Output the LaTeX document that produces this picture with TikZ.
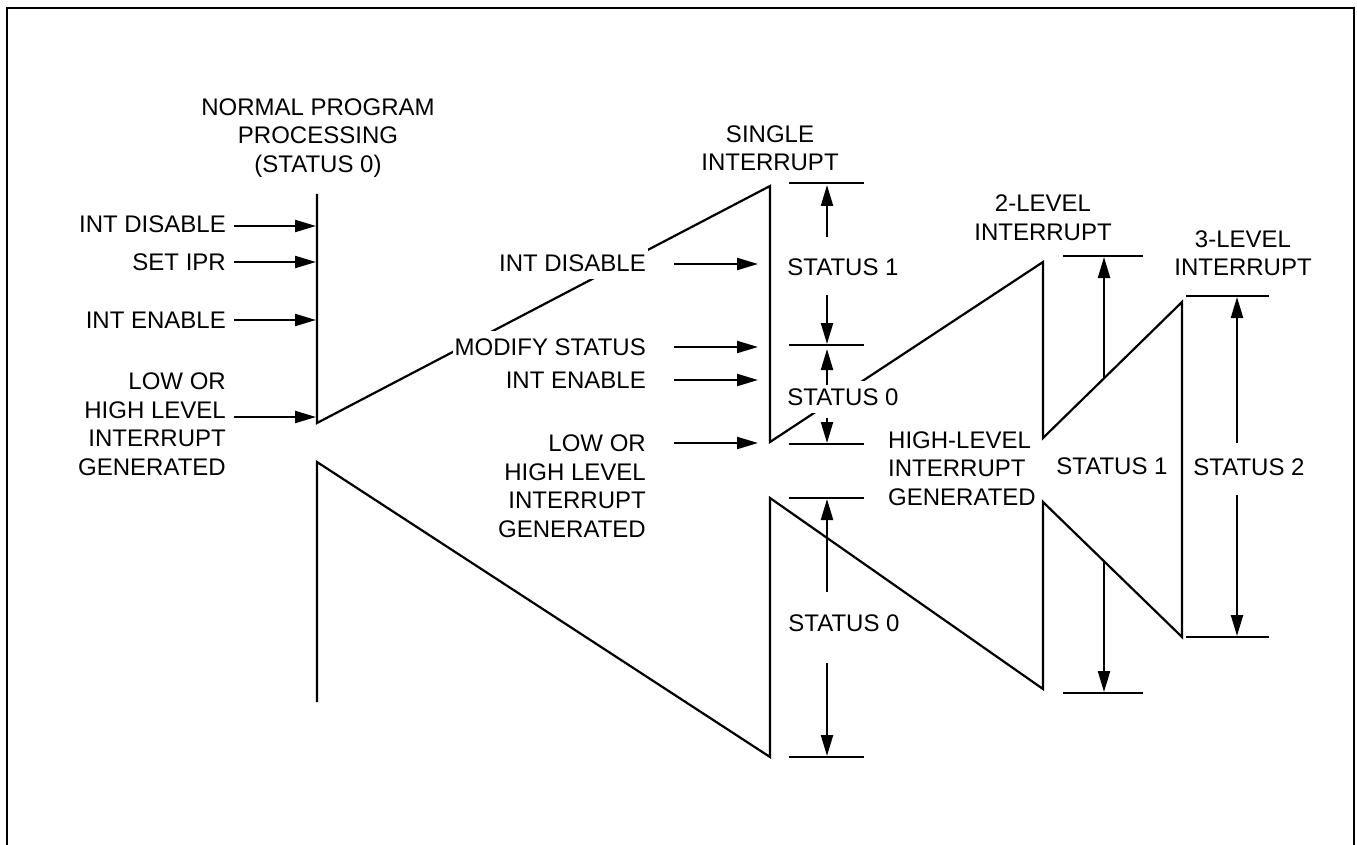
\documentclass[tikz,border=0pt]{standalone}
\usepackage{fontspec}
\setmainfont{Liberation Sans}
\usetikzlibrary{arrows.meta}
\begin{document}
\begin{tikzpicture}[x=1pt,y=-1pt,
  ln/.style={line width=2.2pt},
  arr/.style={line width=2.2pt,-{Triangle[length=21pt,width=12pt]}},
  lbl/.style={inner sep=0pt,font=\fontsize{24}{28.5}\selectfont},
  wlbl/.style={lbl,fill=white,inner xsep=2pt,inner ysep=8pt}]
\useasboundingbox (0,0) rectangle (1357,845);
% frame (open at the bottom)
\draw[line width=2.2pt] (7,846) -- (7,8) -- (1354,8) -- (1354,846);

% main trace
\coordinate (p1) at (317,194);
\coordinate (p2) at (317,423);
\coordinate (p3) at (770,186);
\coordinate (p4) at (770,442);
\coordinate (p5) at (1043,262);
\coordinate (p6) at (1043,438);
\coordinate (p7) at (1182,302);
\coordinate (p8) at (1182,637);
\coordinate (p9) at (1043,502);
\coordinate (p10) at (1043,689);
\coordinate (p11) at (770,498);
\coordinate (p12) at (770,757);
\coordinate (p13) at (317,462);
\coordinate (p14) at (317,702);
\draw[ln] (p1)--(p2)--(p3)--(p4)--(p5)--(p6)--(p7)--(p8)--(p9)--(p10)--(p11)--(p12)--(p13)--(p14);

% level ticks
\draw[ln] (789,183) -- (864,183);
\draw[ln] (789,345) -- (864,345);
\draw[ln] (789,444) -- (864,444);
\draw[ln] (789,498) -- (864,498);
\draw[ln] (789,757) -- (864,757);
\draw[ln] (1063,256) -- (1143,256);
\draw[ln] (1063,693) -- (1143,693);
\draw[ln] (1186,296) -- (1269,296);
\draw[ln] (1186,637) -- (1269,637);

% titles
\node[lbl,align=center] (npp) at (318,138) {NORMAL PROGRAM\\PROCESSING\\(STATUS 0)};
\node[lbl,align=center] (sgl) at (770,148) {SINGLE\\INTERRUPT};
\node[lbl,align=center] (lv2) at (1043,217.5) {2-LEVEL\\INTERRUPT};
\node[lbl,align=center] (lv3) at (1243,253) {3-LEVEL\\INTERRUPT};

% left labels
\node[lbl,anchor=east] (la) at (226,224) {INT DISABLE};
\node[lbl,anchor=east] (lb) at (226,262) {SET IPR};
\node[lbl,anchor=east] (lc) at (226,320) {INT ENABLE};
\node[lbl,anchor=east,align=right] (ld) at (226,424) {LOW OR\\HIGH LEVEL\\INTERRUPT\\GENERATED};

% middle labels
\node[wlbl,anchor=east] (ma) at (648,263) {INT DISABLE};
\node[wlbl,anchor=east] (mb) at (648,347) {MODIFY STATUS};
\node[lbl,anchor=east] (mc) at (646,380) {INT ENABLE};
\node[lbl,anchor=east,align=right] (md) at (646,486) {LOW OR\\HIGH LEVEL\\INTERRUPT\\GENERATED};

% status labels
\node[lbl] (s1) at (843,267) {STATUS 1};
\node[wlbl] (s0a) at (843,397) {STATUS 0};
\node[lbl] (s0b) at (844,623) {STATUS 0};
\node[lbl,anchor=west,align=left] (hl) at (888,468.5) {HIGH-LEVEL\\INTERRUPT\\GENERATED};
\node[lbl] (s1b) at (1112,466) {STATUS 1};
\node[lbl] (s2) at (1249,467) {STATUS 2};

% input arrows (left)
\coordinate (la1) at (234,226); \coordinate (la2) at (316,226);
\coordinate (lb1) at (234,262); \coordinate (lb2) at (316,262);
\coordinate (lc1) at (234,320); \coordinate (lc2) at (316,320);
\coordinate (ld1) at (234,417); \coordinate (ld2) at (316,417);
\draw[arr] (la1) -- (la2);
\draw[arr] (lb1) -- (lb2);
\draw[arr] (lc1) -- (lc2);
\draw[arr] (ld1) -- (ld2);

% input arrows (middle)
\coordinate (ma1) at (674,264); \coordinate (ma2) at (758,264);
\coordinate (mb1) at (674,347); \coordinate (mb2) at (758,347);
\coordinate (mc1) at (674,380); \coordinate (mc2) at (758,380);
\coordinate (md1) at (674,443); \coordinate (md2) at (758,443);
\draw[arr] (ma1) -- (ma2);
\draw[arr] (mb1) -- (mb2);
\draw[arr] (mc1) -- (mc2);
\draw[arr] (md1) -- (md2);

% dimension arrows
\draw[arr] (827,237) -- (827,185);
\draw[arr] (827,295) -- (827,344);
\draw[arr] (827,385) -- (827,349);
\draw[arr] (827,418) -- (827,443);
\draw[arr] (827,592) -- (827,499);
\draw[arr] (827,663) -- (827,756);
\draw[arr] (1104,378) -- (1104,257);
\draw[arr] (1104,561) -- (1104,692);
\draw[arr] (1237,443) -- (1237,297);
\draw[arr] (1237,495) -- (1237,636);
\end{tikzpicture}
\end{document}
